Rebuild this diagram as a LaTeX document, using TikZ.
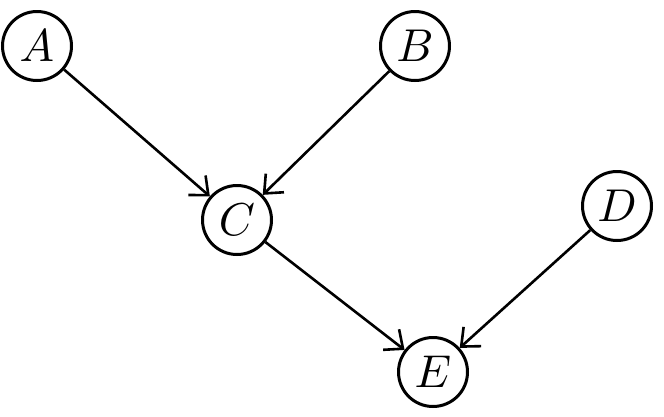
\documentclass[tikz,border=0pt]{standalone}
\usepackage{graphicx}
\usetikzlibrary{arrows.meta}
\newcommand{\bigvar}[1]{\scalebox{4.6}{$#1$}}
\begin{document}
\begin{tikzpicture}[x=1pt,y=-1pt,
  var/.style={circle,draw,line width=3pt,minimum size=69pt,inner sep=0pt},
  edge/.style={line width=2.6pt,-{Straight Barb[length=15pt,width=26pt,line width=2.6pt]}}]
\useasboundingbox (0,0) rectangle (664,416);
\node[var] (A) at (37,46) {\bigvar{A}};
\node[var] (B) at (415,46) {\bigvar{B}};
\node[var] (C) at (237,220) {\bigvar{C}};
\node[var] (D) at (617,206) {\bigvar{D}};
\node[var] (E) at (433,372) {\bigvar{E}};
\draw[edge] (A) -- (C);
\draw[edge] (B) -- (C);
\draw[edge] (C) -- (E);
\draw[edge] (D) -- (E);
\end{tikzpicture}
\end{document}
